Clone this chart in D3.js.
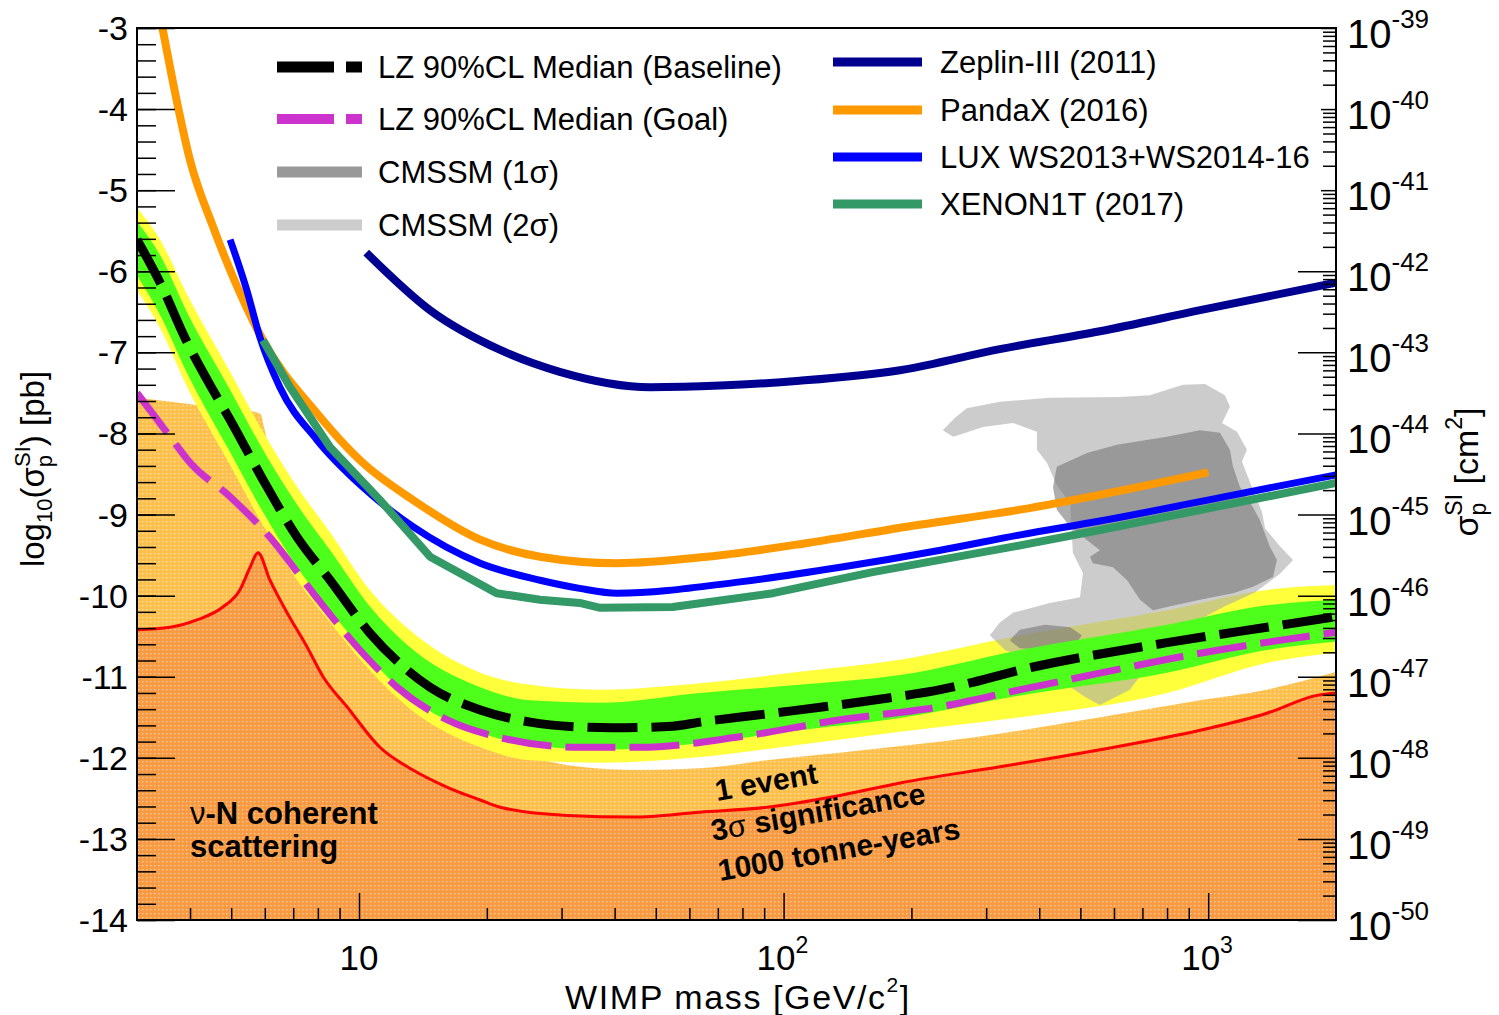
<!DOCTYPE html>
<html>
<head>
<meta charset="utf-8">
<script src="https://cdn.jsdelivr.net/npm/d3@7"></script>
<style>
	body { margin: 0; background: #fff; }
	text { font-family: "Liberation Sans", Arial, Helvetica, sans-serif; fill: #000; }
</style>
</head>
<body>
<div id="chart"></div>
<script>
// Data: [WIMP mass (GeV), log10(sigma_p^SI / pb)]
var zeplin = [[10.4,-5.77],[14.7,-6.48],[21.5,-6.97],[29.7,-7.24],[48.5,-7.43],[70.8,-7.41],[109,-7.35],[188,-7.22],[323,-6.96],[556,-6.74],[957,-6.48],[2000,-6.14]];
var pandax = [[3.40,-2.85],[3.45,-3.02],[3.65,-3.68],[4.0,-4.63],[4.53,-5.45],[5.05,-6.07],[5.94,-6.85],[7.96,-7.75],[10.2,-8.36],[13.4,-8.82],[19.3,-9.31],[26.7,-9.52],[40.5,-9.60],[66.0,-9.52],[114,-9.35],[195,-9.15],[361,-8.94],[1000,-8.48]];
var lux = [[4.97,-5.61],[5.44,-6.23],[5.84,-6.81],[6.51,-7.43],[7.96,-8.08],[10.2,-8.66],[13.4,-9.15],[19.3,-9.60],[26.7,-9.81],[33.1,-9.91],[40.5,-9.97],[78.9,-9.83],[136,-9.65],[234,-9.44],[361,-9.25],[556,-9.08],[1143,-8.76],[2000,-8.51]];
var xenon1t = [[5.94,-6.85],[6.88,-7.43],[8.55,-8.17],[11.2,-8.82],[14.7,-9.52],[21.1,-9.97],[26.7,-10.05],[33.1,-10.09],[37.0,-10.15],[54.8,-10.14],[94.4,-9.97],[162,-9.71],[361,-9.38],[556,-9.19],[2000,-8.61]];
var lzBaseline = [[3.0,-5.61],[3.40,-6.14],[3.94,-6.88],[4.39,-7.34],[4.97,-7.83],[5.94,-8.57],[7.15,-9.28],[8.55,-9.81],[10.6,-10.46],[13.0,-10.92],[14.7,-11.13],[19.3,-11.41],[25.3,-11.56],[33.1,-11.62],[39.6,-11.63],[54.8,-11.61],[63.5,-11.56],[94.4,-11.45],[162,-11.29],[234,-11.16],[387,-10.88],[800,-10.58],[1374,-10.39],[2000,-10.26]];
var lzGoal = [[3.0,-7.50],[3.59,-8.04],[4.0,-8.36],[4.97,-8.78],[6.17,-9.28],[7.80,-9.97],[9.89,-10.63],[12.3,-11.13],[16.1,-11.53],[21.1,-11.74],[33.1,-11.87],[45.9,-11.87],[78.9,-11.74],[136,-11.53],[234,-11.37],[361,-11.16],[465,-11.04],[957,-10.71],[2000,-10.45]];

// LZ sensitivity bands (+-1 sigma green, +-2 sigma yellow)
var bandMass = [3, 3.4, 3.94, 4.97, 5.94, 7.15, 8.55, 10.6, 13.0, 19.3, 25.3, 37, 63.5, 109, 188, 361, 800, 1374, 2000];
var yellowUp = [-5.22,-5.61,-6.29,-7.24,-7.98,-8.66,-9.22,-9.93,-10.40,-10.95,-11.10,-11.16,-11.08,-10.94,-10.79,-10.49,-10.18,-9.93,-9.87];
var greenUp = [-5.39,-5.80,-6.51,-7.46,-8.20,-8.88,-9.44,-10.13,-10.61,-11.13,-11.29,-11.32,-11.20,-11.10,-10.98,-10.67,-10.36,-10.12,-10.05];
var greenLow = [-6.05,-6.54,-7.26,-8.23,-8.97,-9.65,-10.18,-10.77,-11.23,-11.69,-11.84,-11.90,-11.82,-11.66,-11.51,-11.23,-10.95,-10.67,-10.57];
var yellowLow = [-6.23,-6.70,-7.43,-8.39,-9.13,-9.81,-10.33,-10.92,-11.37,-11.87,-12.03,-12.06,-11.99,-11.84,-11.68,-11.50,-11.20,-10.83,-10.70];

// Neutrino backgrounds
var nuFloor = [[3.0,-10.42],[3.59,-10.39],[4.15,-10.30],[4.78,-10.14],[5.24,-9.93],[5.54,-9.65],[5.78,-9.47],[6.17,-9.81],[6.77,-10.21],[7.54,-10.63],[8.23,-11.00],[9.37,-11.37],[11.2,-11.87],[13.4,-12.15],[16.1,-12.36],[19.3,-12.52],[21.5,-12.61],[30.9,-12.71],[44.2,-12.73],[63.5,-12.67],[91.4,-12.61],[131,-12.48],[188,-12.31],[323,-12.11],[556,-11.90],[957,-11.66],[1374,-11.45],[1804,-11.23],[2000,-11.20]];
var nuOneEvent = [[3.0,-7.56],[4.15,-7.65],[5.84,-7.75],[6.0,-7.96],[6.17,-8.29],[6.51,-8.57],[8.55,-10.05],[11.2,-10.92],[16.1,-11.63],[25.3,-11.99],[33.1,-12.11],[45.9,-12.15],[63.5,-12.13],[91.4,-12.03],[157,-11.90],[270,-11.76],[556,-11.50],[957,-11.29],[1374,-11.16],[2000,-10.94]];

// CMSSM regions
var cmssm2sigma = [[237,-7.96],[253,-7.81],[270,-7.69],[323,-7.61],[424,-7.56],[620,-7.55],[729,-7.53],[872,-7.40],[983,-7.39],[1095,-7.53],[1125,-7.67],[1078,-7.87],[1169,-7.98],[1234,-8.20],[1201,-8.35],[1254,-8.60],[1339,-8.97],[1361,-9.17],[1476,-9.39],[1584,-9.56],[1476,-9.73],[1289,-9.96],[1095,-10.13],[906,-10.36],[770,-10.67],[654,-11.16],[556,-11.35],[513,-11.25],[448,-11.04],[380,-10.79],[332,-10.67],[306,-10.49],[323,-10.33],[347,-10.21],[424,-10.09],[499,-10.02],[507,-9.72],[480,-9.47],[473,-8.86],[440,-8.64],[417,-8.36],[395,-8.20],[395,-7.98],[347,-7.87],[295,-7.92],[251,-8.04]];
var cmssm1sigma = [[440,-8.41],[518,-8.24],[610,-8.14],[800,-8.04],[956,-7.96],[1066,-7.99],[1125,-8.20],[1144,-8.41],[1188,-8.66],[1275,-8.91],[1324,-9.07],[1398,-9.40],[1452,-9.56],[1421,-9.77],[1275,-9.89],[1144,-9.97],[956,-10.05],[800,-10.14],[741,-10.18],[691,-10.05],[644,-9.81],[597,-9.65],[535,-9.60],[527,-9.52],[556,-9.44],[473,-9.15],[440,-8.94],[431,-8.66]];
var cmssm1sigmaLobe = [[341,-10.55],[360,-10.42],[413,-10.36],[473,-10.39],[504,-10.49],[486,-10.61],[424,-10.67],[360,-10.65]];

// Tick labels
var leftTickValues = d3.range(-3, -15, -1);
var leftTickLabels = ['-3','-4','-5','-6','-7','-8','-9','-10','-11','-12','-13','-14'];
var massTickValues = [10, 100, 1000];
var massTickExponents = ['', '2', '3'];
var cmExponents = ['-39','-40','-41','-42','-43','-44','-45','-46','-47','-48','-49','-50'];

var leftLegendLabels = ['LZ 90%CL Median (Baseline)', 'LZ 90%CL Median (Goal)', 'CMSSM (1σ)', 'CMSSM (2σ)'];
var rightLegendLabels = ['Zeplin-III (2011)', 'PandaX (2016)', 'LUX WS2013+WS2014-16', 'XENON1T (2017)'];

// Set up the SVG
var fullWidth = 1499, fullHeight = 1015;
var margin = {top: 28, right: 163, bottom: 95, left: 137};
var width = fullWidth - margin.left - margin.right;
var height = fullHeight - margin.top - margin.bottom;

var svg = d3.select('#chart')
	.append('svg')
	.attr('width', fullWidth)
	.attr('height', fullHeight);

var xScale = d3.scaleLog().domain([3, 2000]).range([0, width]);
var yScale = d3.scaleLinear().domain([-14, -3]).range([height, 0]);

var defs = svg.append('defs');
defs.append('clipPath').attr('id', 'plotclip')
	.append('rect').attr('width', width).attr('height', height);

function dotPattern(id, base) {
	var p = defs.append('pattern')
		.attr('id', id)
		.attr('width', 4).attr('height', 4)
		.attr('patternUnits', 'userSpaceOnUse');
	p.append('rect').attr('width', 4).attr('height', 4).attr('fill', base);
	p.append('rect').attr('x', 1).attr('y', 1).attr('width', 1.3).attr('height', 1.3)
		.attr('fill', '#fff').attr('opacity', 0.55);
}
dotPattern('dotDark', '#f89a42');
dotPattern('dotLight', '#fdc04c');

var g = svg.append('g')
	.attr('transform', 'translate(' + margin.left + ',' + margin.top + ')');
var plot = g.append('g').attr('clip-path', 'url(#plotclip)');

var lineSmooth = d3.line()
	.x(function(d) { return xScale(d[0]); })
	.y(function(d) { return yScale(d[1]); })
	.curve(d3.curveMonotoneX);
var lineStraight = d3.line()
	.x(function(d) { return xScale(d[0]); })
	.y(function(d) { return yScale(d[1]); });
var polygon = d3.line()
	.x(function(d) { return xScale(d[0]); })
	.y(function(d) { return yScale(d[1]); })
	.curve(d3.curveLinearClosed);
var areaBelow = d3.area()
	.x(function(d) { return xScale(d[0]); })
	.y0(height)
	.y1(function(d) { return yScale(d[1]); })
	.curve(d3.curveMonotoneX);

// Neutrino regions
plot.append('path').attr('d', areaBelow(nuOneEvent)).attr('fill', 'url(#dotLight)');
plot.append('path').attr('d', areaBelow(nuFloor)).attr('fill', 'url(#dotDark)');
plot.append('path').attr('d', lineSmooth(nuFloor))
	.attr('fill', 'none').attr('stroke', '#ff0000').attr('stroke-width', 3);

// Bands
var bandRows = bandMass.map(function(m, i) {
	return {m: m, yu: yellowUp[i], gu: greenUp[i], gl: greenLow[i], yl: yellowLow[i]};
});
function band(upKey, lowKey) {
	return d3.area()
		.x(function(d) { return xScale(d.m); })
		.y0(function(d) { return yScale(d[lowKey]); })
		.y1(function(d) { return yScale(d[upKey]); })
		.curve(d3.curveMonotoneX)(bandRows);
}
plot.append('path').attr('d', band('yu', 'yl')).attr('fill', '#ffff3c');

// CMSSM
plot.append('path').attr('d', polygon(cmssm2sigma)).attr('fill', '#aaaaaa').attr('fill-opacity', 0.6);
plot.append('path').attr('d', polygon(cmssm1sigma)).attr('fill', '#777777').attr('fill-opacity', 0.6);
plot.append('path').attr('d', polygon(cmssm1sigmaLobe)).attr('fill', '#777777').attr('fill-opacity', 0.6);

plot.append('path').attr('d', band('gu', 'gl')).attr('fill', '#4dff1a');

// Existing limits
function drawCurve(data, color, w, gen) {
	plot.append('path')
		.attr('d', (gen || lineSmooth)(data))
		.attr('fill', 'none')
		.attr('stroke', color)
		.attr('stroke-width', w)
		.attr('stroke-linejoin', 'round');
}
drawCurve(zeplin, '#000090', 8);
drawCurve(pandax, '#ff9900', 8);
drawCurve(lux, '#0000ff', 7);
drawCurve(xenon1t, '#339966', 8, lineStraight);

// LZ medians
plot.append('path').attr('d', lineSmooth(lzGoal))
	.attr('fill', 'none').attr('stroke', '#cc33cc').attr('stroke-width', 7)
	.attr('stroke-dasharray', '50,14');
plot.append('path').attr('d', lineSmooth(lzBaseline))
	.attr('fill', 'none').attr('stroke', '#000').attr('stroke-width', 9)
	.attr('stroke-dasharray', '50,14');

// Axes ticks
function cleanAxis(sel) { sel.select('.domain').remove(); sel.selectAll('.tick line').attr('stroke-width', 1.5); }

g.append('g')
	.call(d3.axisRight(yScale).tickValues(d3.range(-14, -2.99, 0.2)).tickSize(19).tickFormat(''))
	.call(cleanAxis);
g.append('g')
	.call(d3.axisRight(yScale).tickValues(leftTickValues).tickSize(38).tickFormat(''))
	.call(cleanAxis);

var minorMass = [];
[1, 10, 100].forEach(function(dec) {
	for (var k = 2; k <= 9; k++) { if (dec * k > 3 && dec * k < 2000) minorMass.push(dec * k); }
});
minorMass = minorMass.filter(function(v) { return v !== 10 && v !== 100; });
g.append('g').attr('transform', 'translate(0,' + height + ')')
	.call(d3.axisTop(xScale).tickValues(minorMass).tickSize(12).tickFormat(''))
	.call(cleanAxis);
g.append('g').attr('transform', 'translate(0,' + height + ')')
	.call(d3.axisTop(xScale).tickValues(massTickValues).tickSize(27).tickFormat(''))
	.call(cleanAxis);

// Right axis: sigma in cm^2 = pb * 1e-36
var rightMinor = [], rightShortMajor = [], rightLongMajor = [];
for (var e = -50; e <= -39; e++) {
	if (e <= -42) rightLongMajor.push(e + 36); else rightShortMajor.push(e + 36);
	if (e < -39) for (var k = 2; k <= 9; k++) rightMinor.push(e + 36 + Math.log10(k));
}
[[rightMinor, 13], [rightShortMajor, 15], [rightLongMajor, 38]].forEach(function(t) {
	g.append('g').attr('transform', 'translate(' + width + ',0)')
		.call(d3.axisLeft(yScale).tickValues(t[0]).tickSize(t[1]).tickFormat(''))
		.call(cleanAxis);
});

// Frame
g.append('rect').attr('width', width).attr('height', height)
	.attr('fill', 'none').attr('stroke', '#000').attr('stroke-width', 2);

// Tick labels
g.selectAll('.ylab').data(leftTickValues).enter().append('text')
	.attr('x', -9).attr('y', function(d) { return yScale(d) + 12; })
	.attr('text-anchor', 'end').style('font-size', '34px')
	.text(function(d, i) { return leftTickLabels[i]; });

massTickValues.forEach(function(v, i) {
	var t = g.append('text').attr('y', height + 50).style('font-size', '35px');
	if (massTickExponents[i] === '') {
		t.attr('x', xScale(v)).attr('text-anchor', 'middle').text('10');
	} else {
		t.attr('x', xScale(v) - 27).text('10');
		t.append('tspan').attr('dy', -17).style('font-size', '23px').text(massTickExponents[i]);
	}
});

cmExponents.forEach(function(ex, i) {
	var yy = yScale(-3 - i);
	var t = g.append('text').attr('x', width + 11).attr('y', yy + 20).style('font-size', '40px').text('10');
	t.append('tspan').attr('dy', -20).style('font-size', '26px').text(ex);
});

// Axis titles
var xTitle = svg.append('text').attr('x', 565).attr('y', 1009)
	.style('font-size', '34px').style('letter-spacing', '1.6px').text('WIMP mass [GeV/c');
xTitle.append('tspan').attr('dy', -17).style('font-size', '21px').text('2');
xTitle.append('tspan').attr('dy', 17).text(']');

var yTitle = svg.append('text')
	.attr('transform', 'translate(44,469) rotate(-90)')
	.attr('text-anchor', 'middle').style('font-size', '33px');
yTitle.append('tspan').text('log');
yTitle.append('tspan').attr('dy', 8).style('font-size', '22px').text('10');
yTitle.append('tspan').attr('dy', -8).text('(σ');
yTitle.append('tspan').attr('dy', 8).style('font-size', '22px').text('p');
yTitle.append('tspan').attr('dx', -12).attr('dy', -22).style('font-size', '22px').text('SI');
yTitle.append('tspan').attr('dy', 14).text(') [pb]');

var rTitle = svg.append('text')
	.attr('transform', 'translate(1478,472) rotate(-90)')
	.attr('text-anchor', 'middle').style('font-size', '34px');
rTitle.append('tspan').text('σ');
rTitle.append('tspan').attr('dy', 8).style('font-size', '23px').text('p');
rTitle.append('tspan').attr('dx', -13).attr('dy', -24).style('font-size', '23px').text('SI');
rTitle.append('tspan').attr('dy', 16).text(' [cm');
rTitle.append('tspan').attr('dy', -16).style('font-size', '23px').text('2');
rTitle.append('tspan').attr('dy', 16).text(']');

// Annotations
var nuText = svg.append('text').attr('x', 190).attr('y', 824).style('font-size', '31px').style('font-weight', 'bold');
nuText.append('tspan').style('font-weight', 'normal').text('ν');
nuText.append('tspan').text('-N coherent');
svg.append('text').attr('x', 190).attr('y', 857).style('font-size', '31px').style('font-weight', 'bold').text('scattering');

svg.append('text').attr('transform', 'translate(717,801) rotate(-10)')
	.style('font-size', '30px').style('font-weight', 'bold').text('1 event');
var sigText = svg.append('text').attr('transform', 'translate(713,841) rotate(-10)')
	.style('font-size', '30px').style('font-weight', 'bold');
sigText.append('tspan').text('3');
sigText.append('tspan').style('font-weight', 'normal').text('σ');
sigText.append('tspan').text(' significance');
svg.append('text').attr('transform', 'translate(720,881) rotate(-10)')
	.style('font-size', '30px').style('font-weight', 'bold').text('1000 tonne-years');

// Legend
var leftRows = [67, 119, 172, 225];
var leftStyles = [
	{stroke: '#000', w: 11, dash: '57,12'},
	{stroke: '#cc33cc', w: 10, dash: '57,12'},
	{stroke: '#999999', w: 11, dash: null},
	{stroke: '#cccccc', w: 11, dash: null}
];
leftLegendLabels.forEach(function(label, i) {
	svg.append('line').attr('x1', 277).attr('x2', 362).attr('y1', leftRows[i]).attr('y2', leftRows[i])
		.attr('stroke', leftStyles[i].stroke).attr('stroke-width', leftStyles[i].w)
		.attr('stroke-dasharray', leftStyles[i].dash);
	svg.append('text').attr('x', 378).attr('y', leftRows[i] + 11).style('font-size', '31px').text(label);
});

var rightRows = [62, 110, 157, 204];
var rightColors = ['#000090', '#ff9900', '#0000ff', '#339966'];
rightLegendLabels.forEach(function(label, i) {
	svg.append('line').attr('x1', 833).attr('x2', 922).attr('y1', rightRows[i]).attr('y2', rightRows[i])
		.attr('stroke', rightColors[i]).attr('stroke-width', 9);
	svg.append('text').attr('x', 940).attr('y', rightRows[i] + 11).style('font-size', '31px').text(label);
});
</script>
</body>
</html>
